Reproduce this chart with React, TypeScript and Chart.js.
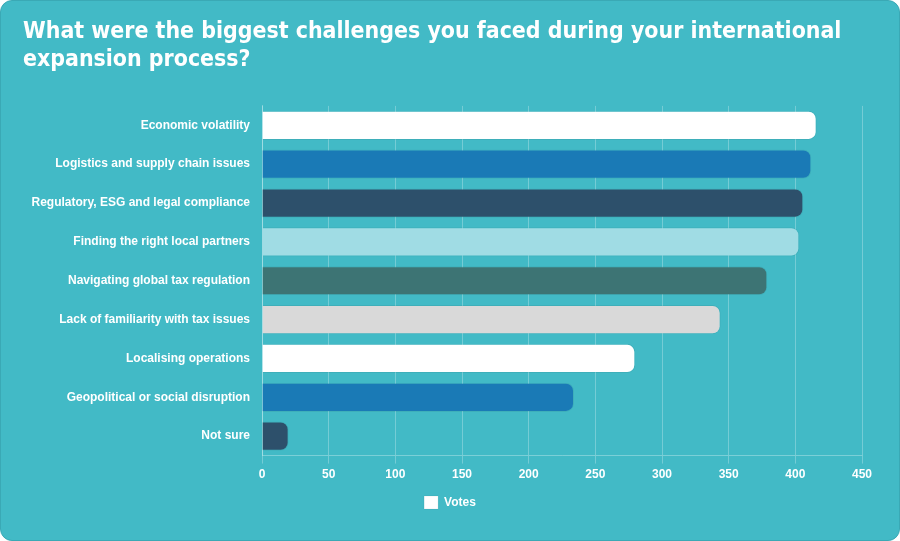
import React, { useEffect, useRef } from "react";
import { Chart, registerables } from "chart.js";

Chart.register(...registerables);

const titleLines = [
  "What were the biggest challenges you faced during your international",
  "expansion process?",
];

const categories = [
  "Economic volatility",
  "Logistics and supply chain issues",
  "Regulatory, ESG and legal compliance",
  "Finding the right local partners",
  "Navigating global tax regulation",
  "Lack of familiarity with tax issues",
  "Localising operations",
  "Geopolitical or social disruption",
  "Not sure",
];

const votes = [416, 412, 406, 403, 379, 344, 280, 234, 20];

const barColors = [
  "#ffffff",
  "#1a7ab6",
  "#2d506b",
  "#a0dce4",
  "#3d7474",
  "#d9d9d9",
  "#ffffff",
  "#1a7ab6",
  "#2d506b",
];

const seriesLabel = "Votes";
const xMax = 450;
const xStep = 50;

const CARD_BG = "#42bac6";
const LABEL_FONT = "'Liberation Sans', Arial, Helvetica, sans-serif";

export default function App() {
  const canvasRef = useRef<HTMLCanvasElement | null>(null);

  useEffect(() => {
    document.body.style.margin = "0";
    const canvas = canvasRef.current;
    if (!canvas) return;

    const chart = new Chart(canvas, {
      type: "bar",
      data: {
        labels: categories,
        datasets: [
          {
            label: seriesLabel,
            data: votes,
            backgroundColor: barColors,
            borderColor: "rgba(0,0,0,0.06)",
            borderWidth: 1,
            borderRadius: 8,
            borderSkipped: "start",
            barPercentage: 0.94,
            categoryPercentage: 0.8,
          },
        ],
      },
      options: {
        indexAxis: "y",
        animation: false,
        responsive: true,
        maintainAspectRatio: false,
        layout: {
          padding: { left: 22, right: 22, top: 0, bottom: 21 },
        },
        scales: {
          x: {
            min: 0,
            max: xMax,
            ticks: {
              stepSize: xStep,
              color: "#ffffff",
              padding: 4,
              font: { family: LABEL_FONT, size: 12, weight: "bold" },
            },
            grid: {
              color: "rgba(255,255,255,0.27)",
              tickLength: 8,
            },
            border: { color: "rgba(255,255,255,0.3)" },
            // keep extra room to the right of the plot, while the legend stays centred
            afterFit: (scale: any) => {
              scale.paddingRight = 37;
            },
          },
          y: {
            ticks: {
              color: "#ffffff",
              padding: 4,
              font: { family: LABEL_FONT, size: 12, weight: "bold" },
            },
            grid: { display: false },
            border: { color: "rgba(255,255,255,0.3)" },
            afterFit: (scale: any) => {
              scale.width = 239;
            },
          },
        },
        plugins: {
          title: {
            display: true,
            text: titleLines,
            align: "start",
            color: "#ffffff",
            font: {
              family: "'DejaVu Sans Condensed', 'DejaVu Sans', Verdana, sans-serif",
              size: 22.9,
              weight: "bold",
              lineHeight: 1.22,
            },
            padding: { top: 17, bottom: 32 },
          },
          legend: {
            display: true,
            position: "bottom",
            labels: {
              color: "#ffffff",
              boxWidth: 14,
              boxHeight: 13,
              padding: 10,
              font: { family: LABEL_FONT, size: 12, weight: "bold" },
            },
          },
          tooltip: { enabled: false },
        },
      },
    });

    return () => chart.destroy();
  }, []);

  return (
    <div
      style={{
        position: "absolute",
        left: 0,
        top: 0,
        width: 900,
        height: 541,
        background: "#ffffff",
      }}
    >
      <div
        style={{
          width: 900,
          height: 541,
          boxSizing: "border-box",
          background: CARD_BG,
          borderRadius: 12,
          border: "1px solid #3aa9b5",
          overflow: "hidden",
          position: "relative",
        }}
      >
        <canvas ref={canvasRef} />
      </div>
    </div>
  );
}
